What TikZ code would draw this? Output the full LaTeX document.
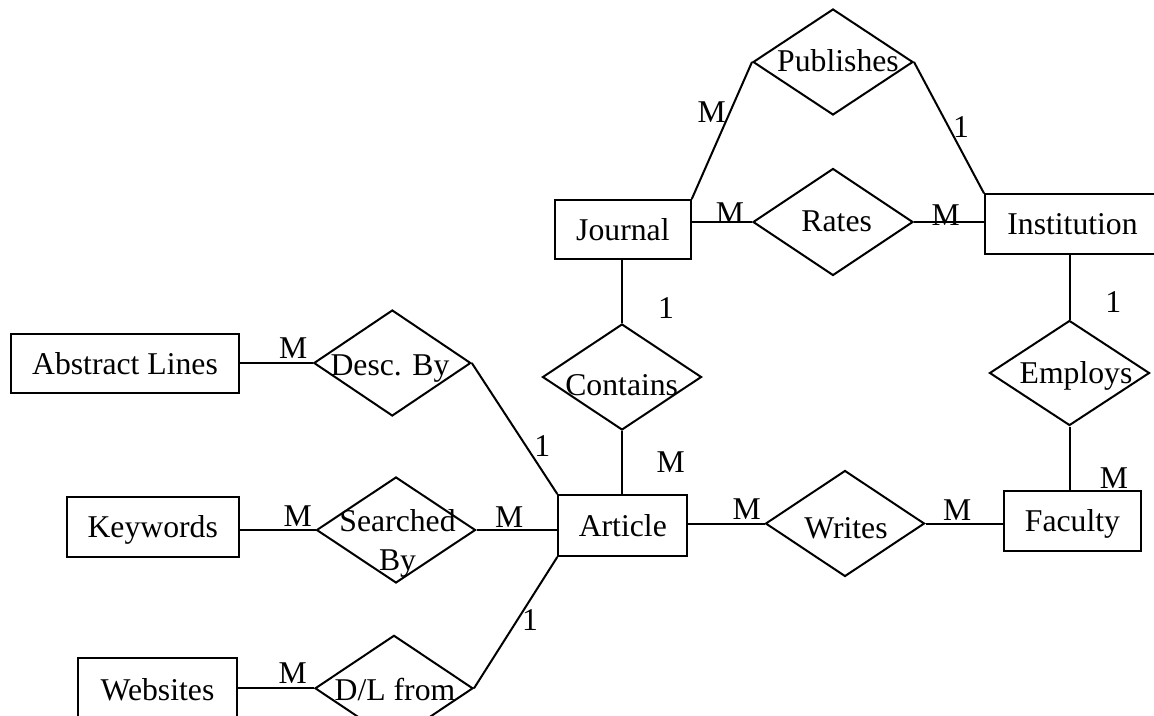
\documentclass[tikz,border=0pt]{standalone}
\usepackage{fontspec}
\setmainfont{Liberation Serif}
\usetikzlibrary{shapes.geometric}
\begin{document}
\begin{tikzpicture}[x=1pt,y=-1pt, line width=2pt,
  every node/.style={font=\fontsize{31.7}{38}\selectfont},
  entity/.style={draw, rectangle, inner sep=0pt, text height=21pt, text depth=0pt},
  rel/.style={draw, diamond, inner sep=0pt, minimum width=159pt, minimum height=106pt},
  rtext/.style={anchor=base, inner sep=0pt},
  card/.style={inner sep=0pt, text height=21pt, text depth=0pt, anchor=center}]
\useasboundingbox (0,0) rectangle (1154,715);

% relationships
\node[rel, minimum width=160pt] (pub) at (833,62) {};
\node[rtext] (pubT) at (838,71.7) {Publishes};
\node[rel, minimum width=160pt, minimum height=107pt] (rates) at (833,222) {};
\node[rtext] (ratesT) at (836.7,231.7) {Rates};
\node[rel] (contains) at (622,377) {};
\node[rtext] (containsT) at (621.7,395) {Contains};
\node[rel, minimum width=160pt, minimum height=105pt] (employs) at (1069.5,373) {};
\node[rtext] (employsT) at (1076,383.3) {Employs};
\node[rel] (writes) at (845,523.5) {};
\node[rtext] (writesT) at (846,538.3) {Writes};
\node[rel, minimum width=157pt] (desc) at (392.3,363) {};
\node[rtext] (descT) at (390,375) {Desc. By};
\node[rel] (search) at (396,530) {};
\node[rtext] (searchT1) at (397.5,531.7) {Searched};
\node[rtext] (searchT2) at (397.5,570) {By};
\node[rel, minimum width=158pt] (dl) at (394,688.3) {};
\node[rtext] (dlT) at (395,700) {D/L from};

% entities
\node[entity, minimum width=135.7pt, minimum height=59.3pt] (journal) at (622.9,229.7) {Journal};
\node[entity, minimum width=175pt, minimum height=59.7pt] (inst) at (1072.5,224.2) {Institution};
\node[entity, minimum width=129pt, minimum height=61pt] (article) at (622.8,525.5) {Article};
\node[entity, minimum width=137pt, minimum height=60.3pt] (faculty) at (1072.5,520.8) {Faculty};
\node[entity, minimum width=228.6pt, minimum height=59.3pt] (abs) at (125,363.7) {Abstract Lines};
\node[entity, minimum width=172pt, minimum height=60pt] (kw) at (152.7,527.3) {Keywords};
\node[entity, minimum width=158.4pt, minimum height=62.4pt] (web) at (157.5,689.5) {Websites};

% connectors
\draw (journal.north east) -- (pub.west);
\draw (pub.east) -- (inst.north west);
\draw (rates.west -| journal.east) -- (rates.west);
\draw (rates.east) -- (rates.east -| inst.west);
\draw (contains.north |- journal.south) -- (contains.north);
\draw (contains.south) -- (contains.south |- article.north);
\draw (employs.north |- inst.south) -- (employs.north);
\draw (employs.south) -- (employs.south |- faculty.north);
\draw (writes.west -| article.east) -- (writes.west);
\draw (writes.east) -- (writes.east -| faculty.west);
\draw (desc.west -| abs.east) -- (desc.west);
\draw (desc.east) -- (article.north west);
\draw (search.west -| kw.east) -- (search.west);
\draw (search.east) -- (search.east -| article.west);
\draw (dl.west -| web.east) -- (dl.west);
\draw (dl.east) -- (article.south west);

% cardinalities
\node[card] (c1) at (711.7,111.7) {M};
\node[card] (c2) at (961,127) {1};
\node[card] (c3) at (730,213.3) {M};
\node[card] (c4) at (945.7,215) {M};
\node[card] (c5) at (666,308.3) {1};
\node[card] (c6) at (670.7,461.7) {M};
\node[card] (c7) at (1113.3,301.7) {1};
\node[card] (c8) at (1114,478.3) {M};
\node[card] (c9) at (746.7,509.3) {M};
\node[card] (c10) at (957.3,510) {M};
\node[card] (c11) at (293.3,348.3) {M};
\node[card] (c12) at (542.3,445.7) {1};
\node[card] (c13) at (297.7,516) {M};
\node[card] (c14) at (509.3,516.7) {M};
\node[card] (c15) at (292.7,672.7) {M};
\node[card] (c16) at (530,620) {1};
\end{tikzpicture}
\end{document}
